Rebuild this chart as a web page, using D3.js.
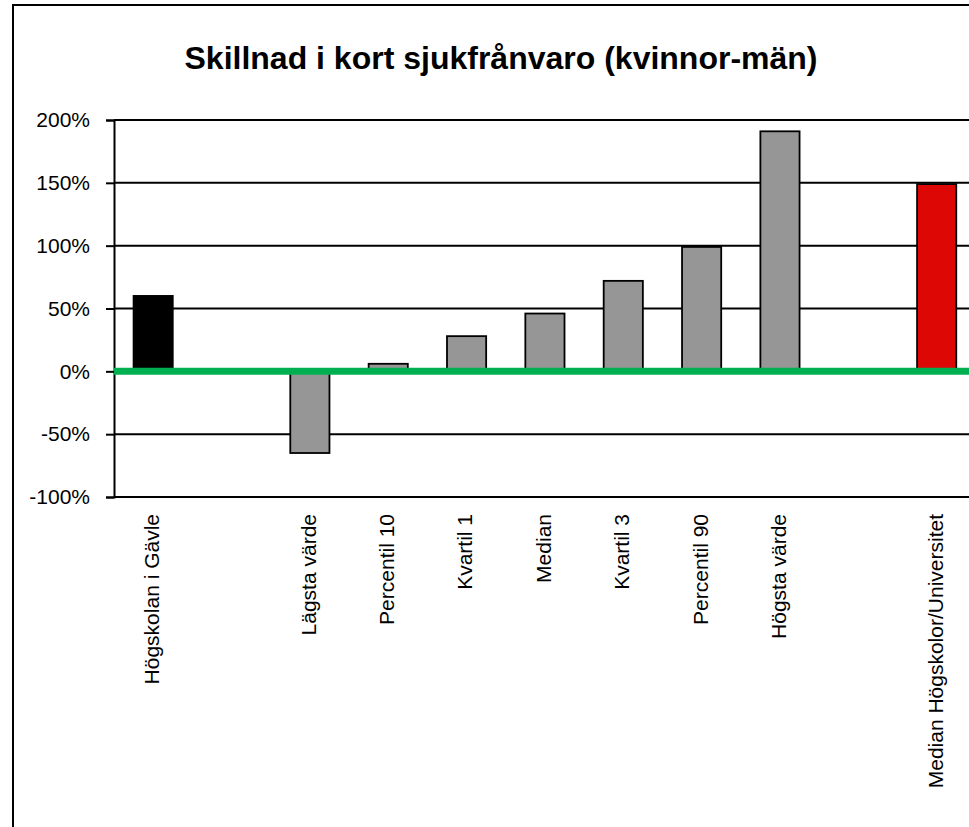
<!DOCTYPE html>
<html>
<head>
<meta charset="utf-8">
<script src="https://cdn.jsdelivr.net/npm/d3@7"></script>
<style>
  html, body { margin: 0; padding: 0; background: #fff; }
  svg { display: block; }
  text { font-family: "Liberation Sans", Arial, sans-serif; fill: #000; }
</style>
</head>
<body>
<svg id="chart" width="969" height="827"></svg>
<script>
// Categories along the x axis (empty strings are spacer slots)
const categories = [
  "Högskolan i Gävle", "", "Lägsta värde", "Percentil 10", "Kvartil 1",
  "Median", "Kvartil 3", "Percentil 90", "Högsta värde", "", "Median Högskolor/Universitet"
];
// Difference in short-term sick leave, women minus men (%)
const values = [60, null, -65, 6, 28, 46, 72, 99, 191, null, 149];
// Bar role per slot: own institution, distribution, national median
const groups = ["own", null, "dist", "dist", "dist", "dist", "dist", "dist", "dist", null, "median"];
const yTicks = [-100, -50, 0, 50, 100, 150, 200];
const title = "Skillnad i kort sjukfrånvaro (kvinnor-män)";

const colors = { own: "#000000", dist: "#969696", median: "#dd0806" };

const svg = d3.select("#chart");

// Outer chart frame
svg.append("rect")
  .attr("x", 13).attr("y", 5)
  .attr("width", 1000).attr("height", 900)
  .attr("fill", "none").attr("stroke", "#000").attr("stroke-width", 2);

svg.append("text")
  .attr("x", 501).attr("y", 69)
  .attr("text-anchor", "middle")
  .attr("font-size", 32).attr("font-weight", "bold")
  .text(title);

const plotLeft = 114, plotTop = 120, plotBottom = 497;
const bandW = 78.35;
const x = d3.scaleBand()
  .domain(d3.range(categories.length))
  .range([plotLeft, plotLeft + bandW * categories.length])
  .paddingInner(0.5).paddingOuter(0.25);

const y = d3.scaleLinear().domain([-100, 200]).range([plotBottom, plotTop]);

// Horizontal gridlines
svg.append("g").selectAll("line")
  .data(yTicks)
  .join("line")
  .attr("x1", plotLeft).attr("x2", 969)
  .attr("y1", d => y(d)).attr("y2", d => y(d))
  .attr("stroke", "#000").attr("stroke-width", 2);

// Y axis with outward ticks
const yAxis = svg.append("g")
  .attr("transform", `translate(${plotLeft},0)`)
  .call(d3.axisLeft(y).tickValues(yTicks).tickSize(8).tickPadding(16)
    .tickFormat(d => d + "%"));
yAxis.select(".domain").attr("stroke", "#000").attr("stroke-width", 2);
yAxis.selectAll(".tick line").attr("stroke", "#000").attr("stroke-width", 2);
yAxis.selectAll(".tick text")
  .attr("font-size", 21)
  .attr("font-family", "\"Liberation Sans\", Arial, sans-serif")
  .attr("fill", "#000");

// Bars
const barData = values.map((v, i) => ({ i, v, g: groups[i] })).filter(d => d.v !== null);
svg.append("g").selectAll("rect")
  .data(barData)
  .join("rect")
  .attr("x", d => x(d.i))
  .attr("width", x.bandwidth())
  .attr("y", d => y(Math.max(0, d.v)))
  .attr("height", d => Math.abs(y(d.v) - y(0)))
  .attr("fill", d => colors[d.g])
  .attr("stroke", "#000").attr("stroke-width", 1.8);

// Zero reference line
svg.append("line")
  .attr("x1", plotLeft).attr("x2", 969)
  .attr("y1", y(0)).attr("y2", y(0))
  .attr("stroke", "#00b050").attr("stroke-width", 7);

// Rotated category labels
svg.append("g").selectAll("text")
  .data(categories.map((c, i) => ({ c, i })).filter(d => d.c !== ""))
  .join("text")
  .attr("transform", d => `translate(${x(d.i) + x.bandwidth() / 2},514) rotate(-90)`)
  .attr("text-anchor", "end")
  .attr("dy", "0.28em")
  .attr("font-size", 21)
  .text(d => d.c);
</script>
</body>
</html>
